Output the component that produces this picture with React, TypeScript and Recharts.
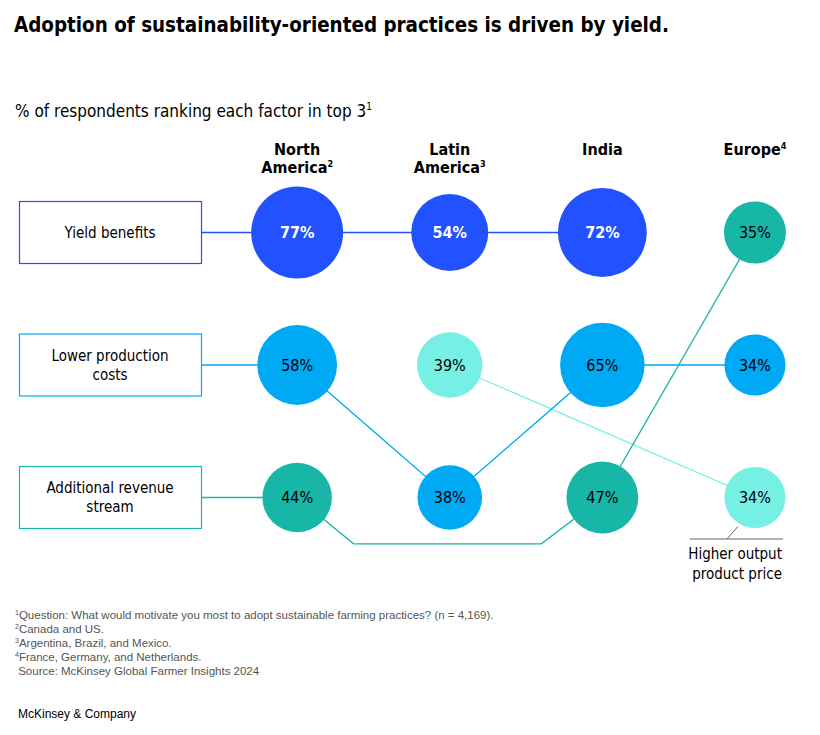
import React from "react";
import { ScatterChart, Scatter, XAxis, YAxis, ZAxis } from "recharts";

// columns (regions), header text split in lines + footnote mark
const regionLines = [["North", "America"], ["Latin", "America"], ["India"], ["Europe"]];
const regionMarks = ["2", "3", "", "4"];

// rows: labelled by North America's top 3
const rowLabels = [["Yield benefits"], ["Lower production", "costs"], ["Additional revenue", "stream"]];

// top 3 factors per region, in rank order, with share of respondents
const northAmericaFactors = ["yield", "cost", "revenue"];
const northAmericaValues = [77, 58, 44];
const latinAmericaFactors = ["yield", "price", "cost"];
const latinAmericaValues = [54, 39, 38];
const indiaFactors = ["yield", "cost", "revenue"];
const indiaValues = [72, 65, 47];
const europeFactors = ["revenue", "cost", "price"];
const europeValues = [35, 34, 34];

const priceNote = ["Higher output", "product price"];

const footnotes = [
  ["1", "Question: What would motivate you most to adopt sustainable farming practices? (n = 4,169)."],
  ["2", "Canada and US."],
  ["3", "Argentina, Brazil, and Mexico."],
  ["4", "France, Germany, and Netherlands."],
  ["", "\u00a0Source: McKinsey Global Farmer Insights 2024"],
];

const COLORS: Record<string, string> = {
  yield: "#2251FF",
  cost: "#00A9F4",
  revenue: "#17B6A7",
  price: "#76F0E5",
};

const NARROW = '"Liberation Sans Narrow", "DejaVu Sans Condensed", "Arial Narrow", sans-serif';
const PLAIN = '"Liberation Sans", Arial, sans-serif';

const BOX_EDGE = -0.63; // right edge of the row boxes, in x units
const revenueDetour = [
  { x: 0.37, y: 2.35 },
  { x: 1.6, y: 2.35 },
];

const allFactors = [northAmericaFactors, latinAmericaFactors, indiaFactors, europeFactors];
const allValues = [northAmericaValues, latinAmericaValues, indiaValues, europeValues];

const bubbles = allFactors.flatMap((list, ri) =>
  list.map((factor, rank) => ({ x: ri, y: rank, v: allValues[ri][rank], factor }))
);

const pathFor = (factor: string) => {
  const pts: { x: number; y: number }[] = [];
  const start = northAmericaFactors.indexOf(factor);
  if (start >= 0) pts.push({ x: BOX_EDGE, y: start });
  allFactors.forEach((list, ri) => {
    const rank = list.indexOf(factor);
    if (rank < 0) return;
    if (factor === "revenue" && ri === 2) pts.push(...revenueDetour);
    pts.push({ x: ri, y: rank });
  });
  return pts;
};

const lineOrder = ["price", "revenue", "cost", "yield"];

const Bubble = (props: any) => {
  const { cx, cy, payload } = props;
  const r = props.width ? props.width / 2 : Math.sqrt(props.size / Math.PI);
  const dark = payload.factor === "yield";
  const isNote = payload.factor === "price" && payload.x === 3;
  return (
    <g>
      <circle cx={cx} cy={cy} r={r} fill={COLORS[payload.factor]} />
      <text
        x={cx}
        y={cy}
        dy="0.36em"
        textAnchor="middle"
        fontFamily={NARROW}
        fontSize={16}
        fontWeight={dark ? 700 : 400}
        fill={dark ? "#fff" : "#000"}
      >
        {payload.v}%
      </text>
      {isNote && (
        <g>
          <line x1={cx - 17} y1={cy + 29} x2={cx - 28} y2={cy + 41.5} stroke="#666" strokeWidth={1} />
          <line x1={cx - 65} y1={cy + 41.5} x2={cx + 28} y2={cy + 41.5} stroke="#666" strokeWidth={1} />
          {priceNote.map((t, i) => (
            <text key={t} x={cx + 27} y={cy + 61 + i * 20} textAnchor="end" fontFamily={NARROW} fontSize={15} fill="#000">
              {t}
            </text>
          ))}
        </g>
      )}
    </g>
  );
};

const RegionTick = (props: any) => {
  const { x, payload } = props;
  const i = payload.value as number;
  const lines = regionLines[i];
  return (
    <text x={x} y={155} textAnchor="middle" fontFamily={NARROW} fontSize={16} fontWeight={700} fill="#000">
      {lines.map((t, j) => (
        <tspan key={j} x={x} dy={j === 0 ? 0 : 18}>
          {t}
          {j === lines.length - 1 && regionMarks[i] && (
            <tspan fontSize={9} dy={-6}>
              {regionMarks[i]}
            </tspan>
          )}
          {j === lines.length - 1 && regionMarks[i] && <tspan dy={6}>{""}</tspan>}
        </tspan>
      ))}
    </text>
  );
};

const RowTick = (props: any) => {
  const { y, payload } = props;
  const i = payload.value as number;
  const lines = rowLabels[i];
  const color = COLORS[northAmericaFactors[i]];
  const first = y - (lines.length - 1) * 9.5;
  return (
    <g>
      <rect x={19.5} y={y - 31} width={182} height={62} fill="#fff" stroke={color} strokeWidth={1.2} />
      {lines.map((t, j) => (
        <text key={j} x={110} y={first + j * 19} dy="0.36em" textAnchor="middle" fontFamily={NARROW} fontSize={15} fill="#000">
          {t}
        </text>
      ))}
    </g>
  );
};

export default function App() {
  return (
    <div style={{ position: "absolute", left: 0, top: 0, width: 820, height: 735, background: "#fff" }}>
      <div
        style={{
          position: "absolute",
          left: 14,
          top: 15,
          fontFamily: NARROW,
          fontSize: 20.4,
          lineHeight: "21px",
          fontWeight: 700,
          color: "#000",
          whiteSpace: "nowrap",
        }}
      >
        Adoption of sustainability-oriented practices is driven by yield.
      </div>
      <div
        style={{
          position: "absolute",
          left: 15,
          top: 98,
          fontFamily: NARROW,
          fontSize: 17,
          lineHeight: "17px",
          color: "#000",
          whiteSpace: "nowrap",
        }}
      >
        % of respondents ranking each factor in top 3<sup style={{ fontSize: 10 }}>1</sup>
      </div>
      <div style={{ position: "absolute", left: 0, top: 0 }}>
        <ScatterChart width={820} height={735} margin={{ top: 60, right: 4, bottom: 105, left: 0 }}>
          <XAxis
            type="number"
            dataKey="x"
            orientation="top"
            height={40}
            domain={[-1.6, 3.4]}
            ticks={[0, 1, 2, 3]}
            interval={0}
            axisLine={false}
            tickLine={false}
            tick={<RegionTick />}
          />
          <YAxis
            type="number"
            dataKey="y"
            width={53}
            domain={[-1, 3]}
            reversed
            ticks={[0, 1, 2]}
            interval={0}
            axisLine={false}
            tickLine={false}
            tick={<RowTick />}
          />
          <ZAxis type="number" dataKey="v" domain={[0, 100]} range={[0, Math.PI * 52.4 * 52.4]} />
          {lineOrder.map((f) => (
            <Scatter
              key={f}
              data={pathFor(f)}
              line={{ stroke: COLORS[f], strokeWidth: 1.3 }}
              lineType="joint"
              shape={() => <g />}
              isAnimationActive={false}
            />
          ))}
          <Scatter data={bubbles} shape={<Bubble />} isAnimationActive={false} />
        </ScatterChart>
      </div>
      <div
        style={{
          position: "absolute",
          left: 15,
          top: 608,
          fontFamily: PLAIN,
          fontSize: 11.5,
          lineHeight: "14px",
          color: "#555",
          whiteSpace: "nowrap",
        }}
      >
        {footnotes.map(([m, t], i) => (
          <div key={i}>
            {m && <sup style={{ fontSize: 7, verticalAlign: "top", lineHeight: "10px" }}>{m}</sup>}
            {t}
          </div>
        ))}
      </div>
      <div
        style={{
          position: "absolute",
          left: 18,
          top: 708,
          fontFamily: PLAIN,
          fontSize: 12,
          lineHeight: "12px",
          color: "#000",
          whiteSpace: "nowrap",
        }}
      >
        McKinsey &amp; Company
      </div>
    </div>
  );
}
